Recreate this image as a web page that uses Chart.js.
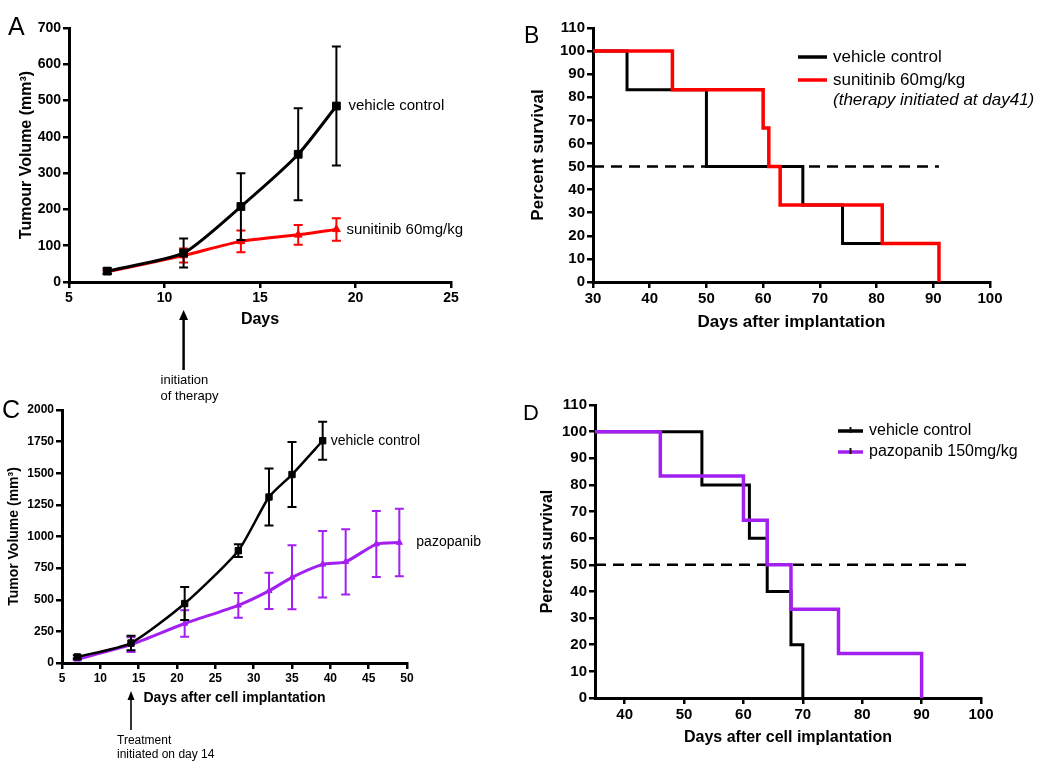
<!DOCTYPE html>
<html>
<head>
<meta charset="utf-8">
<script src="https://cdn.jsdelivr.net/npm/chart.js@4.4.1/dist/chart.umd.min.js"></script>
<style>
body { margin: 0; background: #fff; width: 1050px; height: 762px; position: relative; overflow: hidden; font-family: "Liberation Sans", Arial, sans-serif; }
canvas { position: absolute; }
.letter { position: absolute; line-height: 1; color: #000; }
</style>
</head>
<body>
<canvas id="chartA" width="500" height="405" style="left:0;top:0"></canvas>
<canvas id="chartB" width="530" height="333" style="left:520px;top:0"></canvas>
<canvas id="chartC" width="500" height="362" style="left:0;top:400px"></canvas>
<canvas id="chartD" width="530" height="352" style="left:520px;top:395px"></canvas>

<div class="letter" style="left:8px;top:14px;font-size:25px">A</div>
<div class="letter" style="left:524px;top:24px;font-size:23px">B</div>
<div class="letter" style="left:2px;top:397px;font-size:25px">C</div>
<div class="letter" style="left:523px;top:402px;font-size:22px">D</div>

<script>
// panel A - tumour volume, sunitinib
const daysA = [7, 11, 14, 17, 19];
const vehicleA = [30, 80, 208, 352, 485];
const vehicleAErr = [8, 40, 92, 127, 164];
const sunitinibA = [28, 73, 112, 130, 145];
const sunitinibAErr = [5, 19, 30, 27, 31];

// panel B - survival, sunitinib
const daysVehicleB = [30, 36, 50, 67, 74, 81];
const survVehicleB = [100, 83.3, 50, 33.3, 16.7, 16.7];
const daysSunitinibB = [30, 44, 60, 61, 63, 81, 91];
const survSunitinibB = [100, 83.3, 66.7, 50, 33.3, 16.7, 0];
const medianB = [30, 91];

// panel C - tumor volume, pazopanib
const daysVehicleC = [7, 14, 21, 28, 32, 35, 39];
const vehicleC = [48, 158, 470, 888, 1312, 1490, 1757];
const vehicleCErr = [14, 58, 130, 50, 225, 257, 150];
const daysPazopanibC = [7, 14, 21, 28, 32, 35, 39, 42, 46, 49];
const pazopanibC = [30, 145, 312, 456, 570, 677, 780, 800, 940, 952];
const pazopanibCErr = [8, 58, 105, 98, 143, 253, 263, 258, 261, 267];

// panel D - survival, pazopanib
const daysVehicleD = [35, 53, 61, 64, 68, 70];
const survVehicleD = [100, 80, 60, 40, 20, 0];
const daysPazopanibD = [35, 46, 60, 64, 68, 76, 90];
const survPazopanibD = [100, 83.3, 66.7, 50, 33.3, 16.7, 0];
const medianD = [35, 98];

const RED = '#ff0000';
const PURPLE = 'rgb(163, 32, 240)';
const FONT = '"Liberation Sans", Arial, sans-serif';

Chart.defaults.font.family = FONT;
Chart.defaults.color = '#000';

function pts(xs, ys) {
    return xs.map((x, i) => ({ x: x, y: ys[i] }));
}

// error bars drawn right after each dataset
const errorBars = {
    id: 'errorBars',
    afterDatasetDraw(chart, args) {
        const ds = chart.data.datasets[args.index];
        if (!ds.errors) return;
        const ctx = chart.ctx;
        const y = chart.scales.y;
        const cap = ds.capWidth || 4;
        ctx.save();
        ctx.strokeStyle = ds.borderColor;
        ctx.lineWidth = ds.errorWidth || 2;
        args.meta.data.forEach((p, j) => {
            const v = ds.data[j].y;
            const top = y.getPixelForValue(v + ds.errors[j]);
            const bot = y.getPixelForValue(Math.max(0, v - ds.errors[j]));
            ctx.beginPath();
            ctx.moveTo(p.x, top); ctx.lineTo(p.x, bot);
            ctx.moveTo(p.x - cap, top); ctx.lineTo(p.x + cap, top);
            ctx.moveTo(p.x - cap, bot); ctx.lineTo(p.x + cap, bot);
            ctx.stroke();
        });
        ctx.restore();
    }
};

// series name written after the last point
const endLabels = {
    id: 'endLabels',
    afterDatasetsDraw(chart, args, opts) {
        if (!opts.font) return;
        const ctx = chart.ctx;
        ctx.save();
        ctx.font = opts.font;
        ctx.fillStyle = '#000';
        ctx.textBaseline = 'middle';
        chart.data.datasets.forEach((ds, i) => {
            if (!ds.endLabel) return;
            const meta = chart.getDatasetMeta(i);
            const p = meta.data[meta.data.length - 1];
            ctx.fillText(ds.endLabel, p.x + ds.endLabelDx, p.y);
        });
        ctx.restore();
    }
};

// legend with short line samples
const lineLegend = {
    id: 'lineLegend',
    afterDraw(chart, args, opts) {
        if (!opts.font) return;
        const ctx = chart.ctx;
        const items = chart.data.datasets.filter(ds => ds.legendText)
            .sort((a, b) => a.legendRank - b.legendRank);
        ctx.save();
        ctx.textBaseline = 'middle';
        items.forEach((ds, row) => {
            const y = opts.y + row * opts.rowH;
            ctx.strokeStyle = ds.borderColor;
            ctx.lineWidth = 3.5;
            ctx.beginPath();
            ctx.moveTo(opts.x, y); ctx.lineTo(opts.x + opts.lineLen, y);
            ctx.stroke();
            if (opts.tick) {
                ctx.strokeStyle = '#111';
                ctx.lineWidth = 2;
                ctx.beginPath();
                ctx.moveTo(opts.x + opts.lineLen / 2, y - 4); ctx.lineTo(opts.x + opts.lineLen / 2, y + 2);
                ctx.stroke();
            }
            ctx.font = opts.font;
            ctx.fillStyle = '#000';
            ctx.fillText(ds.legendText, opts.x + opts.lineLen + opts.gap, y);
        });
        if (opts.note) {
            ctx.font = 'italic ' + opts.font;
            ctx.fillText(opts.note, opts.x + opts.lineLen + opts.gap, opts.y + items.length * opts.rowH - 3);
        }
        ctx.restore();
    }
};

// arrow under the x axis marking start of treatment
const arrowNote = {
    id: 'arrowNote',
    afterDraw(chart, args, opts) {
        if (!opts.lines) return;
        const ctx = chart.ctx;
        const x = chart.scales.x.getPixelForValue(opts.day);
        ctx.save();
        ctx.strokeStyle = '#000';
        ctx.fillStyle = '#000';
        ctx.lineWidth = opts.width;
        ctx.beginPath();
        ctx.moveTo(x, opts.tail); ctx.lineTo(x, opts.tip + opts.head - 1);
        ctx.stroke();
        ctx.beginPath();
        ctx.moveTo(x, opts.tip);
        ctx.lineTo(x - opts.headW, opts.tip + opts.head);
        ctx.lineTo(x + opts.headW, opts.tip + opts.head);
        ctx.closePath();
        ctx.fill();
        ctx.font = opts.font;
        ctx.textBaseline = 'middle';
        opts.lines.forEach((t, k) => ctx.fillText(t, x + opts.dx, opts.textY + k * opts.lineH));
        ctx.restore();
    }
};

Chart.register(errorBars, endLabels, lineLegend, arrowNote);

function axis(min, max, step, tickSize, title, titleSize, fitSize, horizontal) {
    return {
        type: 'linear',
        min: min,
        max: max,
        grid: { drawOnChartArea: false, color: '#000', tickLength: 6, lineWidth: 2.5 },
        border: { color: '#000', width: 3 },
        ticks: {
            stepSize: step,
            padding: 2,
            maxRotation: 0,
            autoSkip: false,
            font: { size: tickSize, weight: 'bold' },
            callback: v => String(v)
        },
        title: { display: true, text: title, padding: 0, font: { size: titleSize, weight: 'bold' } },
        afterBuildTicks: s => { s.ticks = s.ticks.filter(t => t.value % step === 0); },
        afterFit: s => {
            if (horizontal) { s.height = fitSize; s.paddingLeft = 0; s.paddingRight = 0; }
            else { s.width = fitSize; s.paddingTop = 0; s.paddingBottom = 0; }
        }
    };
}

function growth(label, xs, ys, errs, color, style, radius, width) {
    return {
        label: label,
        data: pts(xs, ys),
        errors: errs,
        borderColor: color,
        backgroundColor: color,
        borderWidth: width,
        pointStyle: style,
        pointRadius: radius,
        pointBorderWidth: 1,
        tension: 0.2,
        errorWidth: 2,
        capWidth: 4.5
    };
}

function survival(label, xs, ys, color, width, rank) {
    return {
        label: label,
        legendText: label,
        legendRank: rank,
        data: pts(xs, ys),
        borderColor: color,
        backgroundColor: color,
        borderWidth: width,
        pointRadius: 0,
        stepped: 'before'
    };
}

function median(xs) {
    return {
        label: 'median',
        data: pts(xs, xs.map(() => 50)),
        borderColor: '#000',
        borderWidth: 2.5,
        borderDash: [11, 7],
        pointRadius: 0
    };
}

// ---- A ----
const dsVehA = growth('vehicle control', daysA, vehicleA, vehicleAErr, '#000', 'rect', 5.5, 3);
dsVehA.endLabel = 'vehicle control'; dsVehA.endLabelDx = 12;
const dsSunA = growth('sunitinib 60mg/kg', daysA, sunitinibA, sunitinibAErr, RED, 'triangle', 4.5, 3);
dsSunA.endLabel = 'sunitinib 60mg/kg'; dsSunA.endLabelDx = 10;

new Chart(document.getElementById('chartA'), {
    type: 'line',
    data: { datasets: [dsVehA, dsSunA] },
    options: {
        responsive: false,
        animation: false,
        layout: { padding: { left: 17, top: 28, right: 49, bottom: 76 } },
        scales: {
            x: axis(5, 25, 5, 14, 'Days', 16, 47, true),
            y: axis(0, 700, 100, 14, 'Tumour Volume (mm³)', 16, 52, false)
        },
        plugins: {
            legend: { display: false },
            tooltip: { enabled: false },
            endLabels: { font: '15px ' + FONT },
            arrowNote: {
                day: 11, tip: 310, tail: 370, head: 10, headW: 4.5, width: 2.5,
                lines: ['initiation', 'of therapy'], dx: -23, textY: 380, lineH: 16,
                font: '13px ' + FONT
            }
        }
    }
});

// ---- B ---- (first dataset is drawn on top)
new Chart(document.getElementById('chartB'), {
    type: 'line',
    data: {
        datasets: [
            survival('sunitinib 60mg/kg', daysSunitinibB, survSunitinibB, RED, 3.5, 2),
            survival('vehicle control', daysVehicleB, survVehicleB, '#000', 3, 1),
            median(medianB)
        ]
    },
    options: {
        responsive: false,
        animation: false,
        layout: { padding: { left: 8, top: 28, right: 60, bottom: 0 } },
        scales: {
            x: axis(30, 100, 10, 15, 'Days after implantation', 17, 51, true),
            y: axis(0, 110, 10, 15, 'Percent survival', 17, 65, false)
        },
        plugins: {
            legend: { display: false },
            tooltip: { enabled: false },
            lineLegend: {
                x: 278, y: 57, lineLen: 29, gap: 6, rowH: 23, font: '17px ' + FONT,
                note: '(therapy initiated at day41)'
            }
        }
    }
});

// ---- C ----
const dsVehC = growth('vehicle control', daysVehicleC, vehicleC, vehicleCErr, '#000', 'rect', 4.5, 2.5);
dsVehC.endLabel = 'vehicle control'; dsVehC.endLabelDx = 8;
const dsPazC = growth('pazopanib', daysPazopanibC, pazopanibC, pazopanibCErr, PURPLE, 'triangle', 3.5, 3);
dsPazC.endLabel = 'pazopanib'; dsPazC.endLabelDx = 17;

new Chart(document.getElementById('chartC'), {
    type: 'line',
    data: { datasets: [dsVehC, dsPazC] },
    options: {
        responsive: false,
        animation: false,
        layout: { padding: { left: 6, top: 10, right: 93, bottom: 55 } },
        scales: {
            x: axis(5, 50, 5, 12, 'Days after cell implantation', 14, 44, true),
            y: axis(0, 2000, 250, 12, 'Tumor Volume (mm³)', 14, 56, false)
        },
        plugins: {
            legend: { display: false },
            tooltip: { enabled: false },
            endLabels: { font: '14px ' + FONT },
            arrowNote: {
                day: 14, tip: 291, tail: 330, head: 9, headW: 3.5, width: 1.6,
                lines: ['Treatment', 'initiated on day 14'], dx: -14, textY: 341, lineH: 13.5,
                font: '12px ' + FONT
            }
        }
    }
});

// ---- D ----
new Chart(document.getElementById('chartD'), {
    type: 'line',
    data: {
        datasets: [
            survival('pazopanib 150mg/kg', daysPazopanibD, survPazopanibD, PURPLE, 3.5, 2),
            survival('vehicle control', daysVehicleD, survVehicleD, '#000', 3, 1),
            median(medianD)
        ]
    },
    options: {
        responsive: false,
        animation: false,
        layout: { padding: { left: 18, top: 10, right: 69, bottom: 0 } },
        scales: {
            x: axis(35, 100, 10, 15, 'Days after cell implantation', 16, 49, true),
            y: axis(0, 110, 10, 15, 'Percent survival', 16, 57, false)
        },
        plugins: {
            legend: { display: false },
            tooltip: { enabled: false },
            lineLegend: { x: 318, y: 36, lineLen: 25, gap: 6, rowH: 21, font: '16px ' + FONT, tick: true }
        }
    }
});
</script>
</body>
</html>
